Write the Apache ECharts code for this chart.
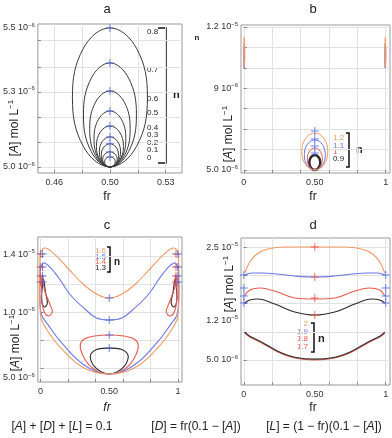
<!DOCTYPE html>
<html>
<head>
<meta charset="utf-8">
<script src="https://cdn.jsdelivr.net/npm/echarts@6/dist/echarts.min.js"></script>
<style>
html, body { margin: 0; padding: 0; background: #fff; }
#chart { width: 392px; height: 438px; }
</style>
</head>
<body>
<div id="chart"></div>
<script>
// ---- panel a : n = 0 .. 0.8, closed loops round fr = 0.5, [A] in 1e-6 mol/L
var aN = ['0', '0.1', '0.2', '0.3', '0.4', '0.5', '0.6', '0.7', '0.8'];
var aLoops = [
    [[0.5,5.036],[0.5027,5.031],[0.5038,5.018],[0.5027,5.005],[0.5,5],[0.4973,5.005],[0.4962,5.018],[0.4973,5.031]],
    [[0.5,5.054],[0.5037,5.046],[0.5052,5.027],[0.5037,5.008],[0.5,5],[0.4963,5.008],[0.4948,5.027],[0.4963,5.046]],
    [[0.5,5.083],[0.5044,5.071],[0.5062,5.041],[0.5044,5.012],[0.5,5],[0.4956,5.012],[0.4938,5.041],[0.4956,5.071]],
    [[0.5,5.108],[0.5054,5.092],[0.5076,5.054],[0.5054,5.016],[0.5,5],[0.4946,5.016],[0.4924,5.054],[0.4946,5.092]],
    [[0.5,5.147],[0.5068,5.126],[0.5097,5.074],[0.5068,5.022],[0.5,5],[0.4932,5.022],[0.4903,5.074],[0.4932,5.126]],
    [[0.5,5.201],[0.5081,5.172],[0.5114,5.101],[0.5081,5.029],[0.5,5],[0.4919,5.029],[0.4886,5.101],[0.4919,5.172]],
    [[0.5,5.273],[0.5103,5.233],[0.5145,5.137],[0.5103,5.040],[0.5,5],[0.4897,5.040],[0.4855,5.137],[0.4897,5.233]],
    [[0.5,5.374],[0.5134,5.319],[0.519,5.187],[0.5134,5.055],[0.5,5],[0.4866,5.055],[0.481,5.187],[0.4866,5.319]],
    [[0.5,5.5],[0.519,5.427],[0.5269,5.25],[0.519,5.073],[0.5,5.0],[0.481,5.073],[0.4731,5.25],[0.481,5.427]]
];
var aMarks = [[0.5,5.036],[0.5,5.054],[0.5,5.083],[0.5,5.108],[0.5,5.147],[0.5,5.201],[0.5,5.273],[0.5,5.374],[0.5,5.5]];
var aXGrid = [0.46, 0.48, 0.50, 0.52, 0.54];
var aXLabelAt = [0.46, 0.50, 0.54];
var aXLabels = ['0.46', '0.50', '0.53'];
var aYGrid = [5.0, 5.09, 5.18, 5.27, 5.36, 5.457];
var aYLabelAt = [5.0, 5.27, 5.5];
var aYLabels = [['5.0 10', '−6'], ['5.3 10', '−6'], ['5.5 10', '−6']];

// ---- panel b : n = 0.9 .. 1.2
var bN = ['0.9', '1', '1.1', '1.2'];
var bLoops = [
    [[0.5,5.73],[0.5274,5.626],[0.5387,5.367],[0.5274,5.108],[0.5,5],[0.4726,5.108],[0.4613,5.367],[0.4726,5.626]],
    [[0.5,6.08],[0.5373,5.922],[0.5528,5.54],[0.5373,5.158],[0.5,5],[0.4627,5.158],[0.4472,5.54],[0.4627,5.922]],
    [[0.5,6.47],[0.5523,6.255],[0.574,5.735],[0.5523,5.215],[0.5,5],[0.4477,5.215],[0.426,5.735],[0.4477,6.255]],
    [[0.5,6.81],[0.5647,6.545],[0.5915,5.905],[0.5647,5.265],[0.5,5],[0.4353,5.265],[0.4085,5.905],[0.4353,6.545]]
];
var bEdgeLeft = [
    [],
    [[0.003,11.0],[0.005,10.5],[0.003,10.0],[0.001,10.5]],
    [[0.003,11.22],[0.006,10.6],[0.003,9.99],[0.0,10.6]],
    [[0.003,11.51],[0.006,10.8],[0.003,10.04],[0.0,10.8]]
];
var bEdgeRight = [
    [],
    [[0.997,11.0],[0.999,10.5],[0.997,10.0],[0.995,10.5]],
    [[0.997,11.22],[1.0,10.6],[0.997,9.99],[0.994,10.6]],
    [[0.997,11.51],[1.0,10.8],[0.997,10.04],[0.994,10.8]]
];
var bMarks = [[0.5,5.83],[0.5,6.17],[0.5,6.52],[0.5,6.91]];
var bXGrid = [0, 0.2, 0.4, 0.6, 0.8, 1];
var bXLabelAt = [0, 0.5, 1];
var bXLabels = ['0', '0.50', '1'];
var bYGrid = [5, 6, 7, 8, 9, 10, 11, 12];
var bYLabelAt = [5, 9, 12];
var bYLabels = [['5.0 10', '−6'], ['9 10', '−6'], ['1.2 10', '−5']];

// ---- panel c : n = 1.3 .. 1.6
var cN = ['1.3', '1.4', '1.5', '1.6'];
var cLoops = [
    [[0.5,6.95],[0.592,6.84],[0.634,6.50],[0.634,6.05],[0.606,5.53],[0.556,5.15],[0.5,5.0],[0.444,5.15],[0.394,5.53],[0.366,6.05],[0.366,6.50],[0.408,6.84]],
    [[0.5,7.93],[0.606,7.86],[0.683,7.63],[0.711,7.18],[0.697,6.50],[0.648,5.68],[0.577,5.15],[0.5,5.0],[0.423,5.15],[0.352,5.68],[0.303,6.50],[0.289,7.18],[0.317,7.63],[0.394,7.86]],
    [[0.5,9.06],[0.592,9.21],[0.669,9.81],[0.782,10.94],[0.894,12.59],[0.972,13.35],[1.0,12.97],[1.005,12.07],[1.005,10.56],[0.993,9.44],[0.944,8.68],[0.852,7.41],[0.683,5.68],[0.5,5.0],[0.317,5.68],[0.148,7.41],[0.056,8.68],[0.007,9.44],[-0.005,10.56],[-0.005,12.07],[0.0,12.97],[0.028,13.35],[0.106,12.59],[0.218,10.94],[0.331,9.81],[0.408,9.21]],
    [[0.5,10.71],[0.592,11.02],[0.683,11.69],[0.803,12.97],[0.894,13.95],[0.965,14.47],[1.0,14.17],[1.005,13.57],[1.008,12.07],[1.008,10.56],[1.0,9.44],[0.993,9.06],[0.944,8.16],[0.852,6.95],[0.683,5.45],[0.5,5.0],[0.317,5.45],[0.148,6.95],[0.056,8.16],[0.007,9.06],[0.0,9.44],[-0.008,10.56],[-0.008,12.07],[-0.005,13.57],[0.0,14.17],[0.035,14.47],[0.106,13.95],[0.197,12.97],[0.317,11.69],[0.408,11.02]]
];
var cSideLeft = [
    [[0.021,12.14],[0.035,11.17],[0.049,10.34],[0.028,10.04],[0.007,10.56],[0.014,11.69]],
    [[0.014,12.44],[0.028,11.32],[0.070,10.19],[0.085,9.66],[0.056,9.36],[0.021,9.81],[0.007,10.94]]
];
var cSideRight = [
    [[0.979,12.14],[0.965,11.17],[0.951,10.34],[0.972,10.04],[0.993,10.56],[0.986,11.69]],
    [[0.986,12.44],[0.972,11.32],[0.930,10.19],[0.915,9.66],[0.944,9.36],[0.979,9.81],[0.993,10.94]]
];
var cEdgeLevels = [11.92, 12.37, 13.05, 14.02];
var cMidMarks = [[0.5,6.95],[0.5,7.93],[0.5,9.06],[0.5,10.71]];
var cXGrid = [0, 0.2, 0.4, 0.6, 0.8, 1];
var cXLabelAt = [0, 0.5, 1];
var cXLabels = ['0', '0.50', '1'];
var cYGrid = [5.45, 7.56, 9.66, 11.77, 13.87];
var cYLabelAt = [4.7, 9.66, 14];
var cYLabels = [['5.0 10', '−6'], ['1.0 10', '−6'], ['1.4 10', '−5']];

// ---- panel d : n = 1.7 .. 2
var dN = ['1.7', '1.8', '1.9', '2'];
var dUpper = [
    [[0.007,15.09],[0.042,15.62],[0.099,15.80],[0.218,14.91],[0.359,13.50],[0.5,12.96],[0.641,13.50],[0.782,14.91],[0.901,15.80],[0.958,15.62],[0.993,15.09]],
    [[0.007,16.33],[0.042,17.39],[0.113,17.74],[0.218,17.21],[0.359,15.97],[0.5,15.80],[0.641,15.97],[0.782,17.21],[0.887,17.74],[0.958,17.39],[0.993,16.33]],
    [[0.007,20.04],[0.056,20.40],[0.127,20.40],[0.239,20.22],[0.359,19.87],[0.5,19.69],[0.641,19.87],[0.761,20.22],[0.873,20.40],[0.944,20.40],[0.993,20.04]],
    [[0.007,20.40],[0.042,22.35],[0.092,23.76],[0.169,24.65],[0.289,25.0],[0.5,25.0],[0.711,25.0],[0.831,24.65],[0.908,23.76],[0.958,22.35],[0.993,20.40]]
];
var dLower = [[0.007,9.78],[0.042,9.07],[0.127,8.01],[0.239,6.42],[0.359,5.35],[0.5,5.0],[0.641,5.35],[0.761,6.42],[0.873,8.01],[0.958,9.07],[0.993,9.78]];
var dEdgeLevels = [15.09, 16.33, 17.74, 20.04];
var dMidMarks = [[0.5,12.96],[0.5,15.97],[0.5,19.69],[0.5,25.0]];
var dXGrid = [0, 0.2, 0.4, 0.6, 0.8, 1];
var dXLabelAt = [0, 0.5, 1];
var dXLabels = ['0', '0.50', '1'];
var dYGrid = [5, 10, 15, 20, 25];
var dYLabelAt = [5, 12, 25];
var dYLabels = [['5.0 10', '−6'], ['1.2 10', '−5'], ['2.5 10', '−5']];

var COL = { black: '#2b2b2b', red: '#ea5a4f', blue: '#6b78e6', orange: '#f39a62' };
var nColors = [COL.black, COL.red, COL.blue, COL.orange];
var PLUS = 'path://M4.4,0H5.6V10H4.4ZM0,4.4H10V5.6H0Z';
var FONT = 'Liberation Sans, Arial, sans-serif';

var chart = echarts.init(document.getElementById('chart'));

var pick = function (v, at, labels) {
    for (var i = 0; i < at.length; i++) {
        if (Math.abs(v - at[i]) < 1e-6) return labels[i];
    }
    return '';
};

var makeX = function (gi, min, max, grid, at, labels) {
    return {
        type: 'value', gridIndex: gi, min: min, max: max,
        axisLine: { show: false },
        axisTick: { show: true, inside: true, length: 3, customValues: grid, lineStyle: { color: '#888' } },
        axisLabel: {
            customValues: at, margin: 5, color: '#333', fontSize: 9, fontFamily: FONT,
            formatter: function (v) { return pick(v, at, labels); }
        },
        splitLine: { show: true, lineStyle: { color: '#e2e2e2', width: 1 } }
    };
};
var makeY = function (gi, min, max, grid, at, labels) {
    return {
        type: 'value', gridIndex: gi, min: min, max: max,
        axisLine: { show: false },
        axisTick: { show: true, inside: true, length: 3, customValues: grid, lineStyle: { color: '#888' } },
        axisLabel: {
            customValues: at, margin: 3, color: '#333', fontFamily: FONT,
            formatter: function (v) {
                var l = pick(v, at, labels);
                return l ? '{m|' + l[0] + '}{e|' + l[1] + '}' : '';
            },
            rich: {
                m: { fontSize: 9, fontFamily: FONT, color: '#333' },
                e: { fontSize: 6, fontFamily: FONT, color: '#333', padding: [0, 0, 6, 0] }
            }
        },
        splitLine: { show: true, lineStyle: { color: '#e2e2e2', width: 1 } }
    };
};

var series = [];
// closed loops: drawn as smoothed polygons, points placed through api.coord
var loop = function (pts, gi, color, width) {
    series.push({
        type: 'custom', xAxisIndex: gi, yAxisIndex: gi, silent: true, clip: true,
        data: [pts[0]],
        renderItem: function (params, api) {
            var p = pts.map(function (q) { return api.coord(q); });
            return {
                type: 'polygon',
                shape: { points: p, smooth: 0.4 },
                style: { fill: 'none', stroke: color, lineWidth: width || 1 }
            };
        }
    });
};
var curve = function (data, gi, color, width) {
    series.push({
        type: 'line', xAxisIndex: gi, yAxisIndex: gi, data: data,
        smooth: 0.4, showSymbol: false, silent: true,
        lineStyle: { color: color, width: width || 1 }
    });
};
var marks = function (data, gi, color) {
    series.push({
        type: 'scatter', xAxisIndex: gi, yAxisIndex: gi, data: data,
        symbol: PLUS, symbolSize: 8, silent: true,
        itemStyle: { color: color }, z: 5
    });
};

// a
aLoops.forEach(function (d) { loop(d, 0, '#3a3a3a', 1); });
marks(aMarks, 0, '#4a62e0');
// b
bLoops.forEach(function (d, i) { loop(d, 1, nColors[i], i === 0 ? 2.5 : 1); });
bEdgeLeft.forEach(function (d, i) { if (d.length) loop(d, 1, nColors[i], 1); });
bEdgeRight.forEach(function (d, i) { if (d.length) loop(d, 1, nColors[i], 1); });
marks(bMarks, 1, '#4a62e0');
// c
cLoops.forEach(function (d, i) { loop(d, 2, nColors[i], 1.1); });
cSideLeft.forEach(function (d, i) { loop(d, 2, nColors[i], 1.1); });
cSideRight.forEach(function (d, i) { loop(d, 2, nColors[i], 1.1); });
marks(cEdgeLevels.map(function (y) { return [0, y]; }), 2, '#e8453c');
marks(cEdgeLevels.map(function (y) { return [0.014, y]; }), 2, '#4a62e0');
marks(cEdgeLevels.map(function (y) { return [0.986, y]; }), 2, '#e8453c');
marks(cEdgeLevels.map(function (y) { return [1.0, y]; }), 2, '#4a62e0');
marks(cMidMarks, 2, '#4a62e0');
// d
curve(dLower, 3, COL.red, 1.1);
curve(dLower.map(function (p) { return [p[0], p[1] + 0.15]; }), 3, COL.black, 1.1);
dUpper.forEach(function (d, i) { curve(d, 3, nColors[i], 1.1); });
marks(dEdgeLevels.map(function (y) { return [0, y]; }), 3, '#4a62e0');
marks(dEdgeLevels.map(function (y) { return [1, y]; }), 3, '#4a62e0');
marks(dMidMarks, 3, '#e8453c');

var txt = function (x, y, s, opt) {
    opt = opt || {};
    return {
        type: 'text', x: x, y: y, rotation: opt.rot || 0, silent: true,
        style: {
            text: s, fill: opt.color || '#222', align: opt.align || 'center', verticalAlign: 'middle',
            font: (opt.weight || 'normal') + ' ' + (opt.size || 9) + 'px ' + FONT,
            rich: opt.rich
        }
    };
};
var bracket = function (x, y1, y2, len) {
    return {
        type: 'polyline', silent: true,
        shape: { points: [[x - len, y1], [x, y1], [x, y2], [x - len, y2]] },
        style: { stroke: '#111', lineWidth: 1.5, fill: null }
    };
};
var titleRich = {
    i: { fontStyle: 'italic', fontSize: 12, fontFamily: FONT, fill: '#222' },
    t: { fontSize: 12, fontFamily: FONT, fill: '#222' },
    e: { fontSize: 8, fontFamily: FONT, fill: '#222', padding: [0, 0, 8, 0] }
};
var yTitle = function (x, y) {
    return txt(x, y, '{t|[}{i|A}{t|] mol L}{e|−1}', { rot: Math.PI / 2, rich: titleRich });
};

var graphics = [
    txt(107, 9, 'a', { size: 13 }), txt(313, 9, 'b', { size: 13 }),
    txt(107, 225, 'c', { size: 13 }), txt(313, 225, 'd', { size: 13 }),
    txt(107, 197, 'fr', { size: 12 }), txt(313, 197, 'fr', { size: 12 }),
    txt(107, 408, '{i|fr}', { rich: titleRich }), txt(313, 408, 'fr', { size: 12 }),
    yTitle(15, 128), yTitle(229, 134), yTitle(16, 343), yTitle(230, 284),
    bracket(166, 28, 163, 8), txt(173, 95, 'n', { size: 11, weight: 'bold', align: 'left' }),
    txt(197, 38, 'n', { size: 8, weight: 'bold' }),
    bracket(349, 133, 167, 3), txt(356, 150, 'n', { size: 11, weight: 'bold', align: 'left' }),
    bracket(110, 247, 272, 3), txt(114, 262, 'n', { size: 10, weight: 'bold', align: 'left' }),
    bracket(314, 323, 352, 3), txt(318, 339, 'n', { size: 11, weight: 'bold', align: 'left' }),
    txt(62, 427, '{t|[}{i|A}{t|] + [}{i|D}{t|] + [}{i|L}{t|] = 0.1}', { rich: titleRich }),
    txt(196, 427, '{t|[}{i|D}{t|] = fr(0.1 − [}{i|A}{t|])}', { rich: titleRich }),
    txt(324, 427, '{t|[}{i|L}{t|] = (1 − fr)(0.1 − [}{i|A}{t|])}', { rich: titleRich })
];
var aLabY = [158, 150, 143, 135, 128, 113, 99, 70, 32];
aN.forEach(function (s, i) { graphics.push(txt(147, aLabY[i], s, { size: 8, align: 'left' })); });
var bLabY = [159, 152, 146, 138];
bN.forEach(function (s, i) { graphics.push(txt(333, bLabY[i], s, { size: 8, align: 'left', color: i === 0 ? '#222' : nColors[i] })); });
var cLabY = [268, 262, 257, 251];
cN.forEach(function (s, i) { graphics.push(txt(106, cLabY[i], s, { size: 8, align: 'right', color: i === 0 ? '#222' : nColors[i] })); });
var dLabY = [347, 339, 332, 324];
var dLabCol = [COL.red, COL.red, COL.blue, COL.orange];
dN.forEach(function (s, i) { graphics.push(txt(308, dLabY[i], s, { size: 8, align: 'right', color: dLabCol[i] })); });

var gridStyle = { show: true, borderColor: '#999', borderWidth: 1, backgroundColor: 'transparent' };
chart.setOption({
    animation: false,
    grid: [
        Object.assign({ left: 32, top: 24, width: 150, height: 149 }, gridStyle),
        Object.assign({ left: 241, top: 25, width: 149, height: 148 }, gridStyle),
        Object.assign({ left: 33, top: 237, width: 149, height: 145 }, gridStyle),
        Object.assign({ left: 241, top: 238, width: 149, height: 147 }, gridStyle)
    ],
    xAxis: [
        makeX(0, 0.4483, 0.5517, aXGrid, aXLabelAt, aXLabels),
        makeX(1, -0.02, 1.03, bXGrid, bXLabelAt, bXLabels),
        makeX(2, -0.02, 1.03, cXGrid, cXLabelAt, cXLabels),
        makeX(3, -0.02, 1.03, dXGrid, dXLabelAt, dXLabels)
    ],
    yAxis: [
        makeY(0, 4.978, 5.514, aYGrid, aYLabelAt, aYLabels),
        makeY(1, 4.853, 12.097, bYGrid, bYLabelAt, bYLabels),
        makeY(2, 4.40, 15.30, cYGrid, cYLabelAt, cYLabels),
        makeY(3, 0.575, 26.6, dYGrid, dYLabelAt, dYLabels)
    ],
    series: series,
    graphic: graphics
});
</script>
</body>
</html>
